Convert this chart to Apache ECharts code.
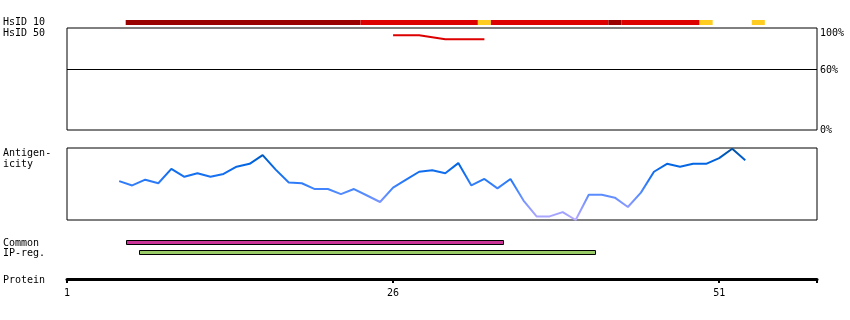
<!DOCTYPE html>
<html>
<head>
<meta charset="utf-8">
<script src="https://cdn.jsdelivr.net/npm/echarts@6/dist/echarts.min.js"></script>
<style>
html,body{margin:0;padding:0;background:#fff;}
#chart{width:850px;height:320px;}
</style>
</head>
<body>
<div id="chart"></div>
<script>
// ---- data ----
const proteinStart = 1;
const proteinEnd = 58.5;
const proteinTicks = [1, 26, 51];

// HsID 10 identity track segments (residue ranges) and their class
const hsid10Start = [6, 24, 33, 34, 43, 44, 50, 54];
const hsid10End   = [23, 32, 33, 42, 43, 49, 50, 54];
const hsid10Class = ['dark', 'red', 'yellow', 'red', 'dark', 'red', 'yellow', 'yellow'];

// HsID 50 identity line (percent)
const hsid50Pos = [26, 27, 28, 29, 30, 31, 32, 33];
const hsid50Val = [93, 93, 93, 91, 89, 89, 89, 89];
const hsid50Labels = [0, 60, 100];
const hsid50RefLine = 60;

// Antigenicity profile
const antigenPos = [5, 6, 7, 8, 9, 10, 11, 12, 13, 14, 15, 16, 17, 18, 19, 20, 21, 22, 23, 24, 25, 26, 27, 28, 29,
                    30, 31, 32, 33, 34, 35, 36, 37, 38, 39, 40, 41, 42, 43, 44, 45, 46, 47, 48, 49, 50, 51, 52, 53];
const antigenVal = [0.54, 0.48, 0.56, 0.51, 0.71, 0.60, 0.65, 0.60, 0.64, 0.74, 0.78, 0.90, 0.70, 0.52, 0.51, 0.43, 0.43, 0.36, 0.43, 0.34, 0.25, 0.45, 0.56, 0.67, 0.69,
                    0.65, 0.79, 0.48, 0.57, 0.44, 0.57, 0.27, 0.05, 0.05, 0.11, 0.00, 0.35, 0.35, 0.31, 0.18, 0.38, 0.67, 0.78, 0.74, 0.78, 0.78, 0.86, 0.99, 0.83];

// Feature regions
const featureNames = ['Common', 'IP-reg.'];
const featureStart = [6, 7];
const featureEnd   = [34, 41];

// ---- styles ----
const FONT = 'DejaVu Sans Mono';
const classColor = { dark: '#990000', red: '#dd0000', yellow: '#ffcc22' };
const featureColor = ['#cc3399', '#99cc66'];

const L = 67, R = 33;
const chart = echarts.init(document.getElementById('chart'), null, { renderer: 'canvas' });

function hiddenX(idx) {
  return { type: 'value', gridIndex: idx, min: proteinStart, max: proteinEnd, show: false };
}

const option = {
  animation: false,
  backgroundColor: '#fff',
  textStyle: { fontFamily: FONT, fontSize: 10, color: '#000' },
  grid: [
    { left: L, right: R, top: 20, height: 5 },
    { left: L, right: R, top: 28, height: 102, show: true, borderColor: '#000', borderWidth: 1 },
    { left: L, right: R, top: 148, height: 72, show: true, borderColor: '#000', borderWidth: 1 },
    { left: L, right: R, top: 238, height: 20 },
    { left: L, right: R, top: 278, height: 1 }
  ],
  xAxis: [
    hiddenX(0), hiddenX(1), hiddenX(2), hiddenX(3),
    {
      type: 'value', gridIndex: 4, min: proteinStart, max: proteinEnd, position: 'bottom',
      axisLine: { show: true, lineStyle: { color: '#000', width: 3 } },
      axisTick: { show: true, length: 4, lineStyle: { color: '#000', width: 2 }, customValues: proteinTicks.concat([proteinEnd]) },
      axisLabel: { show: true, customValues: proteinTicks, margin: 9, fontFamily: FONT, fontSize: 10, color: '#000' },
      splitLine: { show: false }
    }
  ],
  yAxis: [
    { type: 'value', gridIndex: 0, min: 0, max: 1, show: false },
    {
      type: 'value', gridIndex: 1, min: 0, max: 100, position: 'right',
      axisLine: { show: false }, axisTick: { show: false }, splitLine: { show: false },
      axisLabel: {
        show: true, customValues: hsid50Labels, margin: 3, fontFamily: FONT, fontSize: 10, color: '#000',
        formatter: function (v) { return v === 100 ? '{t|100%}' : (v === 60 ? '{m|60%}' : v + '%'); },
        rich: {
          t: { padding: [10, 0, 0, 0], fontFamily: FONT, fontSize: 10, color: '#000' },
          m: { padding: [3, 0, 0, 0], fontFamily: FONT, fontSize: 10, color: '#000' }
        }
      }
    },
    { type: 'value', gridIndex: 2, min: 0, max: 1, show: false },
    {
      type: 'category', gridIndex: 3, data: featureNames, inverse: true,
      axisLine: { show: false }, axisTick: { show: false }, splitLine: { show: false },
      axisLabel: { show: true, interval: 0, align: 'left', margin: 64, fontFamily: FONT, fontSize: 10, color: '#000' }
    },
    { type: 'value', gridIndex: 4, min: 0, max: 1, show: false }
  ],
  visualMap: [{
    type: 'continuous', show: false, seriesIndex: 2, dimension: 1, min: 0, max: 1,
    inRange: { color: ['#b4aaff', '#8a99ff', '#4a88ff', '#1a72f5', '#0064e0', '#004f9c'] }
  }],
  graphic: [
    { type: 'text', left: 3, top: 17, style: { text: 'HsID 10', font: '10px "' + FONT + '"', fill: '#000' } },
    { type: 'text', left: 3, top: 28, style: { text: 'HsID 50', font: '10px "' + FONT + '"', fill: '#000' } },
    { type: 'text', left: 3, top: 148, style: { text: 'Antigen-\nicity', font: '10px "' + FONT + '"', fill: '#000', lineHeight: 11 } },
    { type: 'text', left: 3, top: 275, style: { text: 'Protein', font: '10px "' + FONT + '"', fill: '#000' } }
  ],
  series: [
    {
      type: 'custom', xAxisIndex: 0, yAxisIndex: 0,
      data: hsid10Start.map((s, i) => [s, hsid10End[i]]),
      renderItem: function (params, api) {
        const p0 = api.coord([api.value(0) - 0.5, 1]);
        const p1 = api.coord([api.value(1) + 0.5, 0]);
        return { type: 'rect', shape: { x: p0[0], y: p0[1], width: p1[0] - p0[0], height: p1[1] - p0[1] },
                 style: { fill: classColor[hsid10Class[params.dataIndex]] } };
      }
    },
    {
      type: 'line', xAxisIndex: 1, yAxisIndex: 1, symbol: 'none',
      data: hsid50Pos.map((p, i) => [p, hsid50Val[i]]),
      lineStyle: { color: '#dd0000', width: 2 },
      markLine: {
        silent: true, symbol: 'none', label: { show: false },
        lineStyle: { color: '#000', width: 1, type: 'solid' },
        data: [{ yAxis: hsid50RefLine }]
      }
    },
    {
      type: 'line', xAxisIndex: 2, yAxisIndex: 2, symbol: 'none',
      data: antigenPos.map((p, i) => [p, antigenVal[i]]),
      lineStyle: { width: 2 }
    },
    {
      type: 'custom', xAxisIndex: 3, yAxisIndex: 3,
      data: featureNames.map((n, i) => [featureStart[i], featureEnd[i], i]),
      renderItem: function (params, api) {
        const p0 = api.coord([api.value(0) - 0.5, api.value(2)]);
        const p1 = api.coord([api.value(1) + 0.5, api.value(2)]);
        return { type: 'rect', shape: { x: Math.round(p0[0]) + 0.5, y: Math.round(p0[1]) - 2.5, width: Math.round(p1[0] - p0[0]) - 1, height: 4 },
                 style: { fill: featureColor[params.dataIndex], stroke: '#000', lineWidth: 1 } };
      }
    }
  ]
};
chart.setOption(option);
</script>
</body>
</html>
